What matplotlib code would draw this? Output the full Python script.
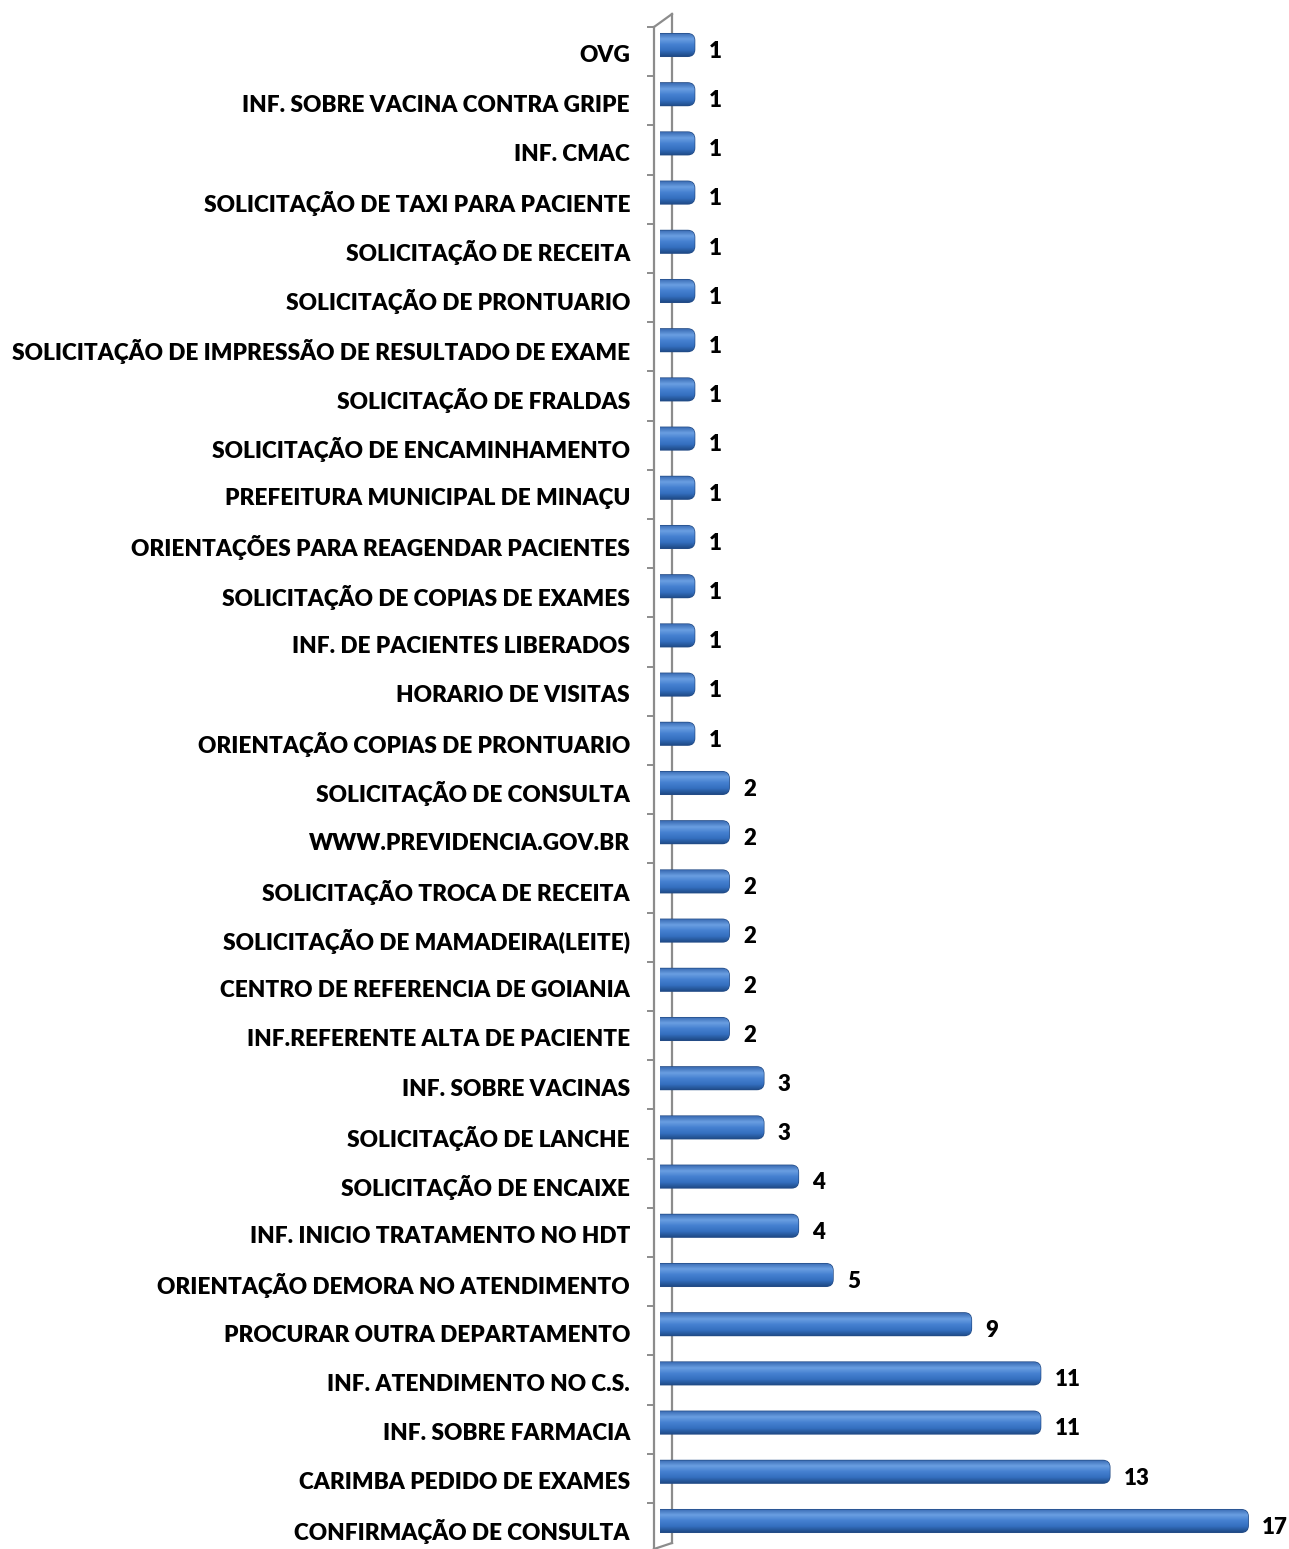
import numpy as np
import matplotlib
matplotlib.use("Agg")
import matplotlib.pyplot as plt
from matplotlib.patches import FancyBboxPatch, Rectangle
from matplotlib.colors import LinearSegmentedColormap

# categories listed from top to bottom
categorias = [
    "OVG",
    "INF. SOBRE VACINA CONTRA GRIPE",
    "INF. CMAC",
    "SOLICITAÇÃO DE TAXI PARA PACIENTE",
    "SOLICITAÇÃO DE RECEITA",
    "SOLICITAÇÃO DE PRONTUARIO",
    "SOLICITAÇÃO DE IMPRESSÃO DE RESULTADO DE EXAME",
    "SOLICITAÇÃO DE FRALDAS",
    "SOLICITAÇÃO DE ENCAMINHAMENTO",
    "PREFEITURA MUNICIPAL DE MINAÇU",
    "ORIENTAÇÕES PARA REAGENDAR PACIENTES",
    "SOLICITAÇÃO DE COPIAS DE EXAMES",
    "INF. DE PACIENTES LIBERADOS",
    "HORARIO DE VISITAS",
    "ORIENTAÇÃO COPIAS DE PRONTUARIO",
    "SOLICITAÇÃO DE CONSULTA",
    "WWW.PREVIDENCIA.GOV.BR",
    "SOLICITAÇÃO TROCA DE RECEITA",
    "SOLICITAÇÃO DE MAMADEIRA(LEITE)",
    "CENTRO DE REFERENCIA DE GOIANIA",
    "INF.REFERENTE ALTA DE PACIENTE",
    "INF. SOBRE VACINAS",
    "SOLICITAÇÃO DE LANCHE",
    "SOLICITAÇÃO DE ENCAIXE",
    "INF. INICIO TRATAMENTO NO HDT",
    "ORIENTAÇÃO DEMORA NO ATENDIMENTO",
    "PROCURAR OUTRA DEPARTAMENTO",
    "INF. ATENDIMENTO NO C.S.",
    "INF. SOBRE FARMACIA",
    "CARIMBA PEDIDO DE EXAMES",
    "CONFIRMAÇÃO DE CONSULTA",
]
valores = [1, 1, 1, 1, 1, 1, 1, 1, 1, 1, 1, 1, 1, 1, 1,
           2, 2, 2, 2, 2, 2, 3, 3, 4, 4, 5, 9, 11, 11, 13, 17]

W, H = 1289, 1549
fig = plt.figure(figsize=(W / 100, H / 100), dpi=100)

# axes geometry in pixels
x_wall = 654
px_unit_x = 34.6
px_unit_y = 49.2
top_px = 27
ax = fig.add_axes([x_wall / W, 0, 1 - x_wall / W, 1 - top_px / H])
x0 = -(660 - x_wall) / px_unit_x
ax.set_xlim(x0, x0 + (W - x_wall) / px_unit_x)
n = len(categorias)
ymax = (1521 - top_px) / px_unit_y
ymin = (1521 - H) / px_unit_y
ax.set_ylim(ymin, ymax)

for s in ["top", "right", "bottom"]:
    ax.spines[s].set_visible(False)
ax.spines["left"].set_color("#8c8c8c")
ax.spines["left"].set_linewidth(1.6)
ax.set_xticks([])
bounds = np.arange(ymax, ymin, -1.0)
ax.set_yticks(bounds)
ax.set_yticklabels([])
ax.tick_params(axis="y", length=5, width=1.4, color="#8c8c8c")

# back wall line and top edge
gx = (672 - x_wall) / (W - x_wall)
gy_top = 1 + 13 / (H - top_px)
ax.plot([0, gx], [1, gy_top], transform=ax.transAxes, color="#8c8c8c",
        lw=1.6, clip_on=False)
ax.plot([gx, gx], [gy_top, 6 / (H - top_px)], transform=ax.transAxes,
        color="#8c8c8c", lw=1.6, clip_on=False)
ax.plot([gx, 0], [6 / (H - top_px), 0], transform=ax.transAxes,
        color="#8c8c8c", lw=1.6, clip_on=False)

grad = LinearSegmentedColormap.from_list(
    "barra", ["#1f4b88", "#3570c0", "#4580d0", "#6a9fe2", "#3a6cb4"])
gimg = np.linspace(0, 1, 64).reshape(-1, 1)

bar_h = 0.46
clip_rect = Rectangle((0, ymin - 1), 100, ymax - ymin + 2, transform=ax.transData)
aspect = px_unit_x / px_unit_y
for i, (cat, v) in enumerate(zip(categorias, valores)):
    p = n - 1 - i
    patch = FancyBboxPatch((-0.4, p - bar_h / 2), v + 0.4, bar_h,
                           boxstyle="round,pad=0,rounding_size=0.2",
                           mutation_aspect=aspect,
                           facecolor="#3a72c2", edgecolor="#244c86", lw=1.0,
                           zorder=3)
    ax.add_patch(patch)
    patch.set_clip_path(clip_rect)
    im = ax.imshow(gimg, cmap=grad, aspect="auto", origin="lower",
                   extent=(0, v, p - bar_h / 2, p + bar_h / 2), zorder=3.5,
                   interpolation="bilinear")
    im.set_clip_path(patch)
    ax.text(v + 14 / px_unit_x, p - 0.13, str(v), ha="left", va="center",
            fontsize=16, fontweight="heavy", family="Lato", color="black")
    ax.text(-(x_wall - 630) / px_unit_x + x0, p - 0.22, cat, ha="right",
            va="center", fontsize=16.3, fontweight="heavy", family="Lato",
            color="black", clip_on=False)

ax.set_xlim(x0, x0 + (W - x_wall) / px_unit_x)
ax.set_ylim(ymin, ymax)

fig.savefig("out.png", dpi=100)
